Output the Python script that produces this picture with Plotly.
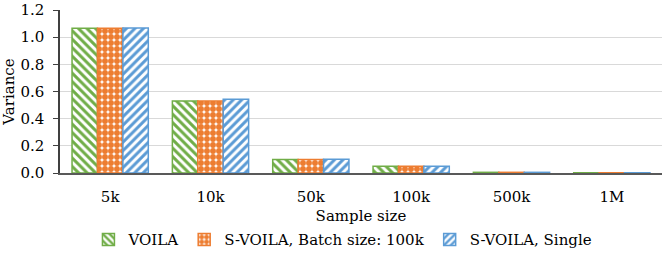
import plotly.graph_objects as go

categories = ["5k", "10k", "50k", "100k", "500k", "1M"]
voila = [1.065, 0.530, 0.100, 0.050, 0.005, 0.002]
svoila_batch = [1.065, 0.530, 0.100, 0.050, 0.005, 0.002]
svoila_single = [1.068, 0.543, 0.101, 0.050, 0.005, 0.002]
y_ticks = [0.0, 0.2, 0.4, 0.6, 0.8, 1.0, 1.2]
series_names = ["VOILA", "S-VOILA, Batch size: 100k", "S-VOILA, Single"]
colors = ["#70AD47", "#ED7D31", "#5B9BD5"]
shapes = ["\\", ".", "/"]

fig = go.Figure()
for name, vals, col, shp in zip(series_names, [voila, svoila_batch, svoila_single], colors, shapes):
    fig.add_trace(go.Bar(
        x=categories, y=vals, name=name,
        marker=dict(
            color="white",
            line=dict(color=col, width=1.5),
            pattern=dict(shape=shp, fgcolor=col, bgcolor="white",
                         size=6,
                         solidity=0.5 if shp != "." else 0.75,
                         fgopacity=1,
                         fillmode="overlay"),
        ),
    ))

ff = "DejaVu Serif"
fs = 15
fig.update_layout(
    width=664, height=253,
    margin=dict(l=60, r=2, t=10, b=80, autoexpand=False),
    plot_bgcolor="white", paper_bgcolor="white",
    font=dict(family=ff, size=fs, color="#000000"),
    barmode="group", bargap=0.24, bargroupgap=0,
    showlegend=True,
    legend=dict(orientation="h", x=0.47, xanchor="center", y=-0.41, yanchor="middle",
                font=dict(family=ff, size=fs), traceorder="normal",
                itemwidth=30, tracegroupgap=0, bgcolor="rgba(0,0,0,0)"),
    xaxis=dict(
        title=dict(text="Sample size", font=dict(family=ff, size=fs), standoff=6),
        showline=True, linecolor="#595959", linewidth=1.5,
        ticks="", tickfont=dict(family=ff, size=fs), showgrid=False,
        ticklabelstandoff=9,
    ),
    yaxis=dict(
        title=dict(text="Variance", font=dict(family=ff, size=fs), standoff=8),
        range=[0, 1.2], tickvals=y_ticks, tickformat=".1f",
        ticklabeloverflow="allow",
        showline=True, linecolor="#404040", linewidth=1.5,
        ticks="outside", ticklen=5, tickcolor="#404040",
        showgrid=True, gridcolor="#D9D9D9", gridwidth=1,
        zeroline=False, tickfont=dict(family=ff, size=fs),
        ticklabelstandoff=6,
    ),
)

fig.write_html("out.html", config={"displayModeBar": False},
               post_script="document.body.style.margin='0';document.body.style.padding='0';")
